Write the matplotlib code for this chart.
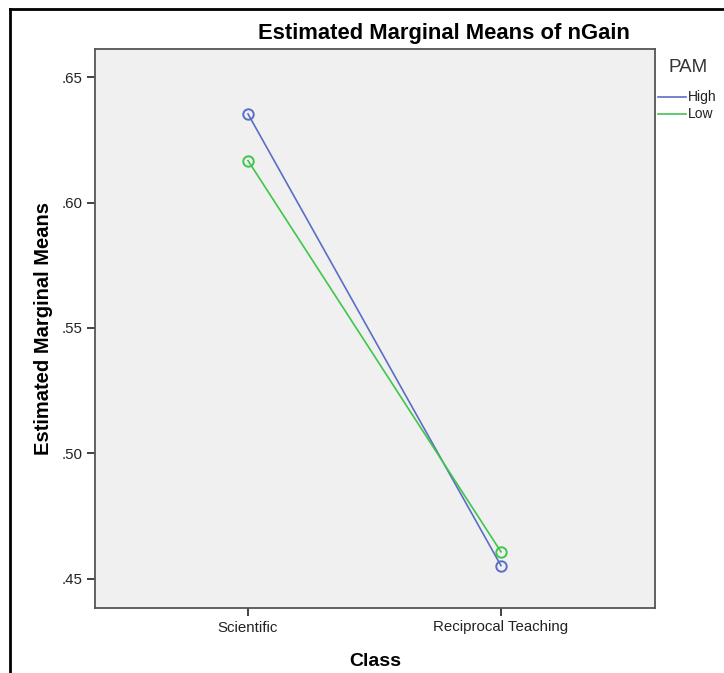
import matplotlib
matplotlib.use("Agg")
import matplotlib.pyplot as plt
from matplotlib.lines import Line2D

categories = ["Scientific", "Reciprocal Teaching"]
high = [0.6353, 0.4553]
low = [0.6167, 0.4608]
yticks = [0.45, 0.50, 0.55, 0.60, 0.65]
ytick_labels = [".45", ".50", ".55", ".60", ".65"]

plt.rcParams['font.family'] = ['Liberation Sans', 'DejaVu Sans']

W, H = 724, 673
fig = plt.figure(figsize=(W / 100, H / 100), dpi=100)
ax = fig.add_axes([95 / W, 1 - 608 / H, 560 / W, 559 / H])
ax.set_facecolor('#f0f0f0')

blue = '#5b6ec6'
green = '#3fc64a'
x = [0, 1]
ax.plot(x, high, color=blue, lw=1.2, marker='o', ms=7.5, mfc='none', mec=blue, mew=1.4, label='High')
ax.plot(x, low, color=green, lw=1.2, marker='o', ms=7.5, mfc='none', mec=green, mew=1.4, label='Low')

ax.set_xlim(-0.605, 1.609)
ax.set_ylim(0.4384, 0.6612)
ax.set_xticks(x)
ax.set_xticklabels(categories, fontsize=10.8, color='#222222')
ax.set_yticks(yticks)
ax.set_yticklabels(ytick_labels, fontsize=10.8, color='#222222')
ax.tick_params(axis='both', length=6, width=1.3, color='#333333', pad=3)
for s in ax.spines.values():
    s.set_color('#555555')
    s.set_linewidth(1.3)

ax.set_xlabel('Class', fontsize=14, fontweight='bold', labelpad=13)
ax.set_ylabel('Estimated Marginal Means', fontsize=14.5, fontweight='bold', labelpad=6)
fig.text(444 / W, 1 - 33 / H, 'Estimated Marginal Means of nGain', ha='center', va='center',
         fontsize=15.8, fontweight='bold')

# legend
fig.text(668 / W, 1 - 68 / H, 'PAM', ha='left', va='center', fontsize=13.5, color='#333333')
for yy, col, lab in [(97, blue, 'High'), (114, green, 'Low')]:
    fig.add_artist(Line2D([658 / W, 686 / W], [1 - yy / H, 1 - yy / H], color=col, lw=1.2))
    fig.text(688 / W, 1 - yy / H, lab, ha='left', va='center', fontsize=10, color='#222222')

# outer frame
fig.add_artist(Line2D([10 / W, 10 / W], [0, 1 - 9 / H], color='black', lw=2))
fig.add_artist(Line2D([10 / W, 1], [1 - 9 / H, 1 - 9 / H], color='black', lw=2))

fig.savefig('out.png', dpi=100)
